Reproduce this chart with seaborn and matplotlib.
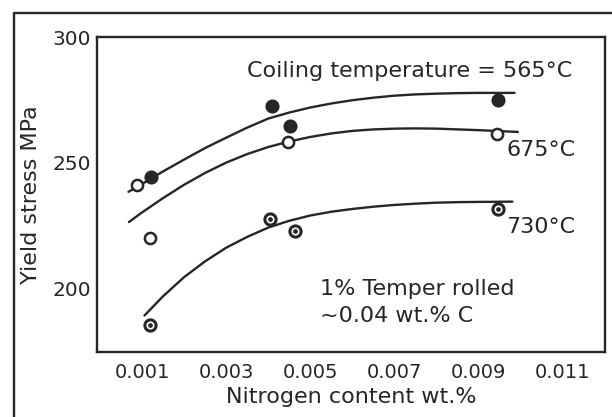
import numpy as np
import pandas as pd
import matplotlib
matplotlib.use("Agg")
import matplotlib.pyplot as plt
from matplotlib.lines import Line2D
import seaborn as sns

# Measured yield stress (MPa) against nitrogen content (wt.%)
n_565 = [0.00122, 0.00409, 0.00452, 0.00946]
ys_565 = [244.3, 272.5, 264.7, 274.9]

n_675 = [0.00089, 0.00118, 0.00448, 0.00944]
ys_675 = [241.1, 220.3, 258.2, 261.4]

n_730 = [0.00120, 0.00403, 0.00464, 0.00946]
ys_730 = [185.8, 227.6, 222.9, 231.8]

# Hand-drawn trend curves for each coiling temperature
curve_565_x = [0.00068, 0.0010, 0.0015, 0.0020, 0.0025, 0.0030, 0.0035, 0.0040, 0.0045, 0.0050,
               0.0055, 0.0060, 0.0065, 0.0070, 0.0075, 0.0080, 0.0085, 0.0090, 0.00985]
curve_565_y = [238.5, 241.6, 246.6, 251.3, 255.9, 260.0, 264.0, 267.6, 270.0, 272.0,
               273.6, 274.9, 275.9, 276.7, 277.2, 277.5, 277.7, 277.8, 277.8]

curve_675_x = [0.00069, 0.0010, 0.0015, 0.0020, 0.0025, 0.0030, 0.0035, 0.0040, 0.0045, 0.0050,
               0.0055, 0.0060, 0.0065, 0.0070, 0.0075, 0.0080, 0.0085, 0.0090, 0.0095, 0.00993]
curve_675_y = [226.5, 230.3, 236.0, 241.3, 246.0, 250.1, 253.5, 256.3, 258.5, 260.3,
               261.7, 262.7, 263.3, 263.6, 263.7, 263.6, 263.3, 263.0, 262.6, 262.3]

curve_730_x = [0.00106, 0.0015, 0.0020, 0.0025, 0.0030, 0.0035, 0.0040, 0.0045, 0.0050,
               0.0055, 0.0060, 0.0065, 0.0070, 0.0075, 0.0080, 0.0085, 0.0090, 0.0098]
curve_730_y = [189.4, 197.0, 204.6, 210.9, 216.3, 220.6, 224.3, 227.0, 229.1,
               230.6, 231.7, 232.6, 233.3, 233.8, 234.2, 234.4, 234.5, 234.6]

x_ticks = [0.001, 0.003, 0.005, 0.007, 0.009, 0.011]
x_ticklabels = ["0.001", "0.003", "0.005", "0.007", "0.009", "0.011"]
y_ticks = [200, 225, 250, 275, 300]
y_ticklabels = ["200", "", "250", "", "300"]

sns.set_theme(style="white")
plt.rcParams["font.family"] = ["DejaVu Sans"]

ink = "#262626"
fig = plt.figure(figsize=(6.12, 4.17), dpi=100)
fig.patch.set_facecolor("white")
ax = fig.add_axes([96.5 / 612, 1 - 351.7 / 417, (605 - 96.5) / 612, (351.7 - 37) / 417])

# Outer border around the figure panel
fig.add_artist(Line2D([13.5 / 612, 13.5 / 612], [0, 1 - 13 / 417], transform=fig.transFigure,
                      color=ink, lw=1.7))
fig.add_artist(Line2D([13.5 / 612, 1], [1 - 13 / 417, 1 - 13 / 417], transform=fig.transFigure,
                      color=ink, lw=1.7))

curves = [(curve_565_x, curve_565_y), (curve_675_x, curve_675_y), (curve_730_x, curve_730_y)]
for cx, cy in curves:
    sns.lineplot(x=cx, y=cy, ax=ax, color=ink, lw=1.7, sort=False, estimator=None)

# 565 °C: filled circles
sns.scatterplot(x=n_565, y=ys_565, ax=ax, marker="o", s=80, color=ink, edgecolor=ink,
                linewidth=1.2, zorder=5)
# 675 °C: open circles
sns.scatterplot(x=n_675, y=ys_675, ax=ax, marker="o", s=65, facecolor="white", edgecolor=ink,
                linewidth=1.8, zorder=5)
# 730 °C: ringed circles with a dark centre
sns.scatterplot(x=n_730, y=ys_730, ax=ax, marker="o", s=65, facecolor="white", edgecolor=ink,
                linewidth=2.2, zorder=5)
sns.scatterplot(x=n_730, y=ys_730, ax=ax, marker="o", s=8, color=ink, edgecolor=ink,
                linewidth=0.5, zorder=6)

ax.set_xlim(-0.00008, 0.012)
ax.set_ylim(175, 300)
ax.set_xticks(x_ticks)
ax.set_xticklabels(x_ticklabels)
ax.set_yticks(y_ticks)
ax.set_yticklabels(y_ticklabels)
ax.tick_params(axis="both", direction="in", length=6, width=1.3, colors=ink,
               labelsize=14, labelcolor=ink)
ax.tick_params(axis="x", pad=8)
ax.tick_params(axis="y", pad=4, labelsize=14.5)
for s in ax.spines.values():
    s.set_color(ink)
    s.set_linewidth(1.7)

ax.set_xlabel("Nitrogen content wt.%", fontsize=16, color=ink, labelpad=4)
ax.set_ylabel("Yield stress MPa", fontsize=16, color=ink, labelpad=8)

txt = dict(fontsize=16, color=ink)
ax.text(0.01123, 286.5, "Coiling temperature = 565°C", ha="right", va="center", **txt)
ax.text(0.00966, 255.0, "675°C", ha="left", va="center", **txt)
ax.text(0.00966, 224.4, "730°C", ha="left", va="center", **txt)
ax.text(0.00522, 200.1, "1% Temper rolled", ha="left", va="center", **txt)
ax.text(0.00522, 189.0, "~0.04 wt.% C", ha="left", va="center", **txt)

fig.savefig("out.png", dpi=100, facecolor="white")
